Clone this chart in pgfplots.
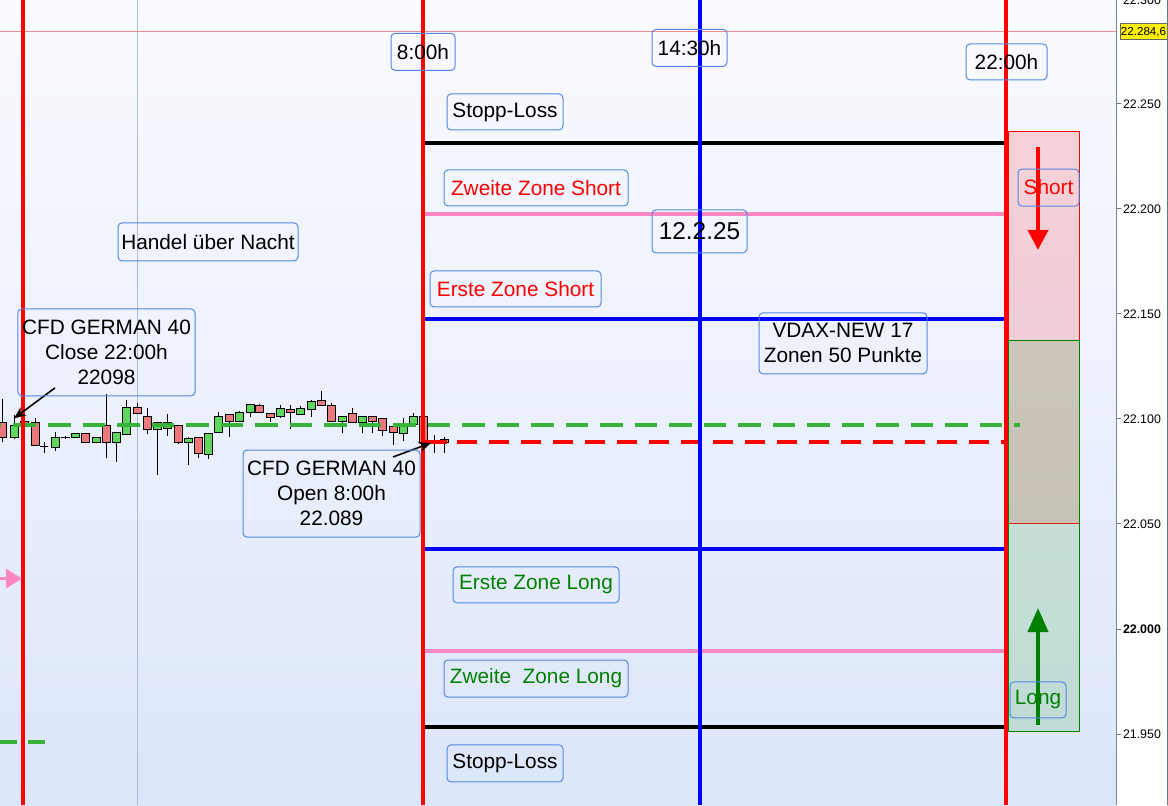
\documentclass[border=0pt]{standalone}
\usepackage{pgfplots}
\pgfplotsset{compat=1.18}
\usetikzlibrary{arrows.meta}
\usepackage{fontspec}
\setmainfont{Liberation Sans}
\definecolor{cgreen}{RGB}{95,215,95}
\definecolor{cred}{RGB}{235,120,125}
\definecolor{boxblue}{RGB}{85,135,230}
\definecolor{lpink}{RGB}{255,136,196}
\definecolor{dgreen}{RGB}{55,180,55}
\definecolor{tgreen}{RGB}{0,128,0}
\definecolor{bgtop}{RGB}{250,251,255}
\definecolor{bgbot}{RGB}{220,230,250}
\definecolor{axisgray}{RGB}{100,120,130}
\definecolor{zgreen}{RGB}{68,170,70}
\definecolor{thinred}{RGB}{240,140,140}
\definecolor{thingrey}{RGB}{175,188,215}
% candle: x, body low, body high, low, high, colour
\newcommand{\candle}[6]{%
  \pgfmathsetmacro\xl{#1-4}\pgfmathsetmacro\xr{#1+4}%
  \addplot[draw=black, line width=0.5pt] coordinates {(#1,#4)(#1,#5)};
  \edef\tmp{\noexpand\addplot[draw=black, line width=0.5pt, fill=#6] coordinates {(\xl,#2)(\xr,#2)(\xr,#3)(\xl,#3)} --cycle;}\tmp}
\tikzset{lbl/.style={draw=boxblue, line width=0.5pt, rounded corners=2pt, inner sep=0pt, align=center, font=\fontsize{10.4}{12.5}\selectfont}}
\begin{document}
\begin{tikzpicture}
\fill[white] (0,0) rectangle (584pt,402.5pt);
\begin{axis}[
  at={(0,0)}, anchor=south west,
  width=558pt, height=402.5pt, scale only axis,
  xmin=0, xmax=1116, ymin=21916.2, ymax=22299.5,
  axis x line=none, axis y line*=right,
  axis line style={draw=axisgray, line width=0.6pt},
  tick align=outside, major tick length=2.5pt,
  tick style={draw=axisgray, line width=0.5pt},
  ytick={21950,22000,22050,22100,22150,22200,22250},
  yticklabels={21.950,\textbf{22.000},22.050,22.100,22.150,22.200,22.250},
  yticklabel style={font=\fontsize{6.2}{7}\selectfont, anchor=west, inner sep=0.8pt},
]
\addplot[draw=none, fill=bgbot] coordinates {(0,21916.2)(1116,21916.2)(1116,22299.5)(0,22299.5)} --cycle;
\fill[top color=bgtop, bottom color=bgbot] (axis cs:0,21916.2) rectangle (axis cs:1116,22299.5);
% thin reference lines
\addplot[draw=thingrey, line width=0.5pt] coordinates {(137,21916.2)(137,22299.5)};
\addplot[draw=thinred, line width=0.5pt] coordinates {(0,22284.6)(1116,22284.6)};
% zones on the right
\addplot[draw=red, line width=0.5pt, fill=red, fill opacity=0.15] coordinates {(1008,22050)(1079,22050)(1079,22237)(1008,22237)} --cycle;
\addplot[draw=tgreen, line width=0.5pt, fill=zgreen, fill opacity=0.2] coordinates {(1008,21951)(1079,21951)(1079,22137.6)(1008,22137.6)} --cycle;
% candles
\candle{3}{22091.4}{22098.1}{22089.0}{22109.5}{cred}
\candle{14.5}{22091.0}{22097.1}{22090.5}{22101.9}{cgreen}
\candle{24}{22096.7}{22098.6}{22095.7}{22099.5}{cred}
\candle{35}{22087.6}{22098.1}{22087.6}{22100.5}{cred}
\candle{44}{22086.7}{22086.7}{22083.8}{22089.0}{cgreen}
\candle{55.5}{22086.2}{22091.4}{22084.8}{22093.8}{cgreen}
\candle{65}{22091.0}{22091.4}{22090.5}{22091.9}{cgreen}
\candle{75.5}{22091.0}{22092.9}{22091.0}{22092.9}{cgreen}
\candle{85.5}{22089.0}{22092.9}{22089.0}{22093.3}{cred}
\candle{96}{22089.0}{22091.4}{22089.0}{22091.4}{cgreen}
\candle{106}{22088.6}{22096.7}{22081.4}{22111.9}{cred}
\candle{116.5}{22088.6}{22093.8}{22079.5}{22093.8}{cgreen}
\candle{126.5}{22092.4}{22105.7}{22092.4}{22109.0}{cgreen}
\candle{137}{22102.4}{22105.7}{22102.4}{22107.6}{cred}
\candle{147.5}{22094.8}{22101.0}{22092.9}{22105.2}{cred}
\candle{157.5}{22094.8}{22098.1}{22073.5}{22098.1}{cgreen}
\candle{167}{22095.7}{22098.1}{22091.9}{22102.4}{cgreen}
\candle{178}{22089.0}{22096.7}{22088.1}{22096.7}{cred}
\candle{188.5}{22088.6}{22090.5}{22078.1}{22091.4}{cgreen}
\candle{198}{22083.8}{22091.0}{22081.4}{22091.0}{cred}
\candle{208}{22083.3}{22093.3}{22081.0}{22093.3}{cgreen}
\candle{218.5}{22093.8}{22101.4}{22093.8}{22103.3}{cgreen}
\candle{229}{22098.6}{22101.9}{22091.4}{22101.9}{cred}
\candle{239}{22099.0}{22102.9}{22099.0}{22103.8}{cgreen}
\candle{250}{22103.3}{22107.1}{22101.0}{22107.1}{cgreen}
\candle{259.5}{22102.9}{22106.2}{22102.9}{22107.1}{cred}
\candle{270}{22100.5}{22102.4}{22098.6}{22102.4}{cred}
\candle{280}{22101.0}{22105.2}{22100.5}{22106.7}{cgreen}
\candle{290.5}{22102.9}{22104.3}{22095.2}{22106.7}{cred}
\candle{300.5}{22101.9}{22104.8}{22101.9}{22106.2}{cgreen}
\candle{311.5}{22104.3}{22108.1}{22101.0}{22109.0}{cgreen}
\candle{321.5}{22106.2}{22108.6}{22106.2}{22113.3}{cred}
\candle{331.5}{22099.0}{22106.2}{22099.0}{22107.6}{cred}
\candle{342}{22098.6}{22101.0}{22093.3}{22101.0}{cgreen}
\candle{352.5}{22098.1}{22102.4}{22098.1}{22105.2}{cred}
\candle{362.5}{22098.1}{22101.0}{22093.3}{22101.0}{cgreen}
\candle{372.5}{22098.6}{22101.0}{22093.3}{22101.0}{cred}
\candle{382.5}{22094.3}{22100.0}{22091.9}{22100.0}{cred}
\candle{393}{22093.8}{22096.2}{22087.6}{22096.2}{cred}
\candle{403}{22093.3}{22097.6}{22089.5}{22100.5}{cgreen}
\candle{413}{22097.6}{22101.0}{22097.6}{22102.9}{cgreen}
\candle{423.5}{22089.0}{22101.0}{22089.0}{22101.0}{cred}
\candle{434}{22089.0}{22089.0}{22083.8}{22092.4}{cgreen}
\candle{444}{22089.0}{22090.0}{22083.8}{22091.4}{cgreen}
% zone levels
\addplot[draw=black, line width=1.6pt] coordinates {(424,22231.4)(1005,22231.4)};
\addplot[draw=lpink, line width=1.7pt] coordinates {(424,22197.6)(1005,22197.6)};
\addplot[draw=blue, line width=1.6pt] coordinates {(424,22147.6)(1005,22147.6)};
\addplot[draw=blue, line width=1.6pt] coordinates {(424,22038.1)(1005,22038.1)};
\addplot[draw=lpink, line width=1.7pt] coordinates {(424,21989.5)(1005,21989.5)};
\addplot[draw=black, line width=1.6pt] coordinates {(424,21953.3)(1005,21953.3)};
% close / open lines
\addplot[draw=dgreen, line width=2pt, dash pattern=on 11.25pt off 6pt] coordinates {(-21,22097.1)(1020,22097.1)};
\addplot[draw=dgreen, line width=2pt, dash pattern=on 8.5pt off 5.5pt] coordinates {(0,21946.2)(45,21946.2)};
\addplot[draw=red, line width=1.6pt] coordinates {(425,22089.0)(447,22089.0)};
\addplot[draw=red, line width=1.6pt, dash pattern=on 10pt off 6pt] coordinates {(457,22089.0)(1005,22089.0)};
% time markers
\addplot[draw=red, line width=2pt] coordinates {(23,21916.2)(23,22299.5)};
\addplot[draw=red, line width=2pt] coordinates {(423,21916.2)(423,22299.5)};
\addplot[draw=blue, line width=2pt] coordinates {(700,21916.2)(700,22299.5)};
\addplot[draw=red, line width=2pt] coordinates {(1005.5,21916.2)(1005.5,22299.5)};
% arrows
\draw[lpink, line width=1.5pt, -{Triangle[width=9.5pt,length=8pt]}] (axis cs:-2,22024) -- (axis cs:22,22024);
\draw[black, line width=0.8pt, -{Stealth[width=5pt,length=6pt]}] (axis cs:55,22114.8) -- (axis cs:14,22100.3);
\draw[black, line width=0.8pt, -{Stealth[width=5pt,length=6pt]}] (axis cs:393,22081.9) -- (axis cs:431,22088.6);
\draw[red, line width=2pt, -{Triangle[width=10pt,length=10pt]}] (axis cs:1038,22229.5) -- (axis cs:1038,22180.5);
\draw[tgreen, line width=2pt, -{Triangle[width=10pt,length=12pt]}] (axis cs:1038,21954.3) -- (axis cs:1038,22010.0);
% labels
\node[lbl, minimum width=32pt, minimum height=18.5pt] at (axis cs:423,22274.8) {8:00h};
\node[lbl, minimum width=37.5pt, minimum height=18.5pt] at (axis cs:689.5,22276.7) {14:30h};
\node[lbl, minimum width=40.5pt, minimum height=18pt] at (axis cs:1006.5,22270.0) {22:00h};
\node[lbl, minimum width=58pt, minimum height=18pt] at (axis cs:505,22246.2) {Stopp-Loss};
\node[lbl, minimum width=92pt, minimum height=18pt, text=red] at (axis cs:536,22210.0) {Zweite Zone Short};
\node[lbl, minimum width=47.5pt, minimum height=21.5pt, font=\fontsize{12.2}{14}\selectfont] at (axis cs:699.5,22189.3) {12.2.25};
\node[lbl, minimum width=90pt, minimum height=19pt] at (axis cs:208,22184.3) {Handel über Nacht};
\node[lbl, minimum width=85.5pt, minimum height=18pt, text=red] at (axis cs:515.5,22161.9) {Erste Zone Short};
\node[lbl, minimum width=88.5pt, minimum height=43.5pt] at (axis cs:106.5,22131.7) {CFD GERMAN 40\\Close 22:00h\\22098};
\node[lbl, minimum width=84pt, minimum height=30.5pt] at (axis cs:843,22136.0) {VDAX-NEW 17\\Zonen 50 Punkte};
\node[lbl, minimum width=88.5pt, minimum height=43.5pt] at (axis cs:331.5,22064.5) {CFD GERMAN 40\\Open 8:00h\\22.089};
\node[lbl, minimum width=83pt, minimum height=18pt, text=tgreen] at (axis cs:536,22021.0) {Erste Zone Long};
\node[lbl, minimum width=92pt, minimum height=18.5pt, text=tgreen] at (axis cs:536,21976.4) {Zweite~ Zone Long};
\node[lbl, minimum width=58pt, minimum height=18.5pt] at (axis cs:505,21936.0) {Stopp-Loss};
\node[lbl, minimum width=30.5pt, minimum height=18.5pt, text=red] at (axis cs:1048.5,22210.2) {Short};
\node[lbl, minimum width=28pt, minimum height=18pt, text=tgreen] at (axis cs:1038,21966.2) {Long};
\end{axis}
% right-hand price scale extras
\draw[axisgray, line width=0.5pt] (558pt,402.5pt) -- (560.5pt,402.5pt);
\node[anchor=west, inner sep=0.8pt, font=\fontsize{6.2}{7}\selectfont] at (560.5pt,402.5pt) {22.300};
\node[fill=yellow, draw=black!60, line width=0.5pt, inner sep=0pt, minimum width=23.5pt, minimum height=8pt, font=\fontsize{5.8}{6}\selectfont] at (571.75pt,386.5pt) {22.284,6};
\draw[axisgray, line width=0.5pt] (583.6pt,0) -- (583.6pt,402.5pt);
\pgfresetboundingbox
\path (0,0) rectangle (584pt,402.5pt);
\end{tikzpicture}
\end{document}
